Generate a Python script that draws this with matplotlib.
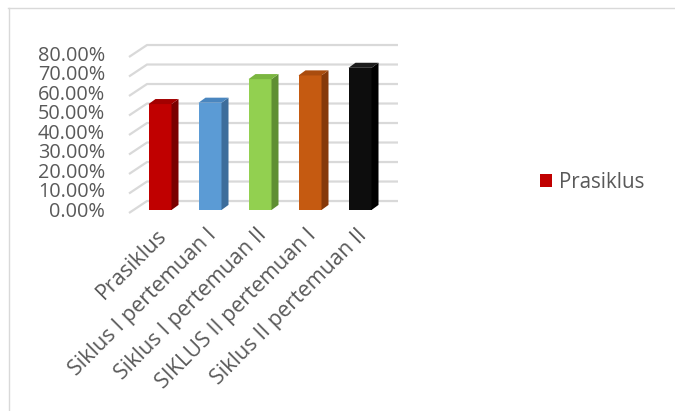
import matplotlib
matplotlib.use("Agg")
import matplotlib.pyplot as plt
from matplotlib.patches import Polygon, Rectangle, Patch
from matplotlib.lines import Line2D

# data
categories = ["Prasiklus", "Siklus I pertemuan I", "Siklus I pertemuan II",
              "SIKLUS II pertemuan I", "Siklus II pertemuan II"]
values = [54.3, 55.0, 67.1, 69.0, 72.9]
y_ticks = [0, 10, 20, 30, 40, 50, 60, 70, 80]
y_labels = ["%.2f%%" % v for v in y_ticks]
legend_label = "Prasiklus"

front = ["#c00000", "#5b9bd5", "#92d050", "#c55a11", "#0d0d0d"]
side = ["#7a0000", "#3d6d9b", "#5f8f33", "#86390a", "#000000"]
top = ["#a30000", "#4a86bf", "#7bb640", "#a94c0e", "#1c1c1c"]

plt.rcParams['font.family'] = ['Open Sans', 'DejaVu Sans']
W, H = 675, 411
fig = plt.figure(figsize=(W / 100, H / 100), dpi=100)

# axes placed on pixel area 100..420 x 30..230
ax = fig.add_axes([100 / W, 1 - 230 / H, 320 / W, 200 / H])
ax.set_xlim(-1.2, 5.2)
ax.set_ylim(-10.26, 92.3)
ax.axis("off")

grid_c = "#d9d9d9"
fx, bx, rx = -0.62, -0.26, 4.76
fdy, bdy = -1.54, 4.6
for v in y_ticks:
    ax.plot([fx, bx, rx], [v + fdy, v + bdy, v + bdy], color=grid_c, lw=1.6,
            solid_capstyle="butt", zorder=1)

bw = 0.46
sdx, sdy = 0.14, 2.6
for i, v in enumerate(values):
    x0, x1 = i - bw / 2, i + bw / 2
    ax.add_patch(Rectangle((x0, 0), bw, v, facecolor=front[i], edgecolor="none", zorder=3))
    ax.add_patch(Polygon([(x1, 0), (x1, v), (x1 + sdx, v + sdy), (x1 + sdx, sdy)],
                         closed=True, facecolor=side[i], edgecolor="none", zorder=3))
    ax.add_patch(Polygon([(x0, v), (x1, v), (x1 + sdx, v + sdy), (x0 + sdx, v + sdy)],
                         closed=True, facecolor=top[i], edgecolor="none", zorder=3))

txt_c = "#595959"
for v, lab in zip(y_ticks, y_labels):
    ax.text(-1.1, v - 1.0, lab, ha="right", va="center", fontsize=14.3, color=txt_c)

for i, lab in enumerate(categories):
    ax.text(i - 0.08, -7.5, lab, rotation=45, ha="right", va="top",
            rotation_mode="anchor", fontsize=15.5, color=txt_c)

fig.legend(handles=[Patch(facecolor=front[0], edgecolor="none")], labels=[legend_label],
           loc="center left", bbox_to_anchor=(521 / W, 1 - 182 / H), frameon=False,
           handlelength=0.6, handleheight=0.6, handletextpad=0.35,
           prop={"size": 14.8}, labelcolor=txt_c)

# chart border (left and top visible)
fig.add_artist(Line2D([8.5 / W, 8.5 / W], [0, 1 - 8 / H], color=grid_c, lw=1))
fig.add_artist(Line2D([8 / W, 1], [1 - 8.5 / H, 1 - 8.5 / H], color=grid_c, lw=1))

fig.savefig("out.png", dpi=100)
